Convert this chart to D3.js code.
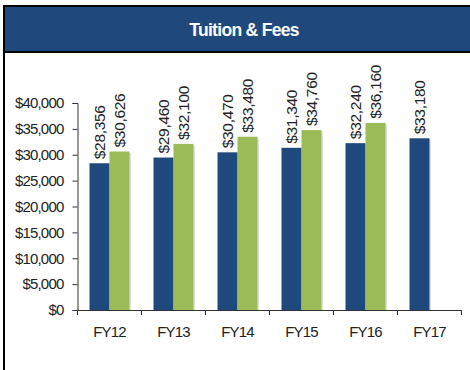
<!DOCTYPE html>
<html>
<head>
<meta charset="utf-8">
<script src="https://cdn.jsdelivr.net/npm/d3@7"></script>
<style>
  html, body { margin: 0; padding: 0; background: #fff; }
  svg { display: block; }
</style>
</head>
<body>
<svg id="chart" width="470" height="370"></svg>
<script>
// Tuition & fees by fiscal year, two rate series
const categories = ["FY12", "FY13", "FY14", "FY15", "FY16", "FY17"];
const seriesA = [28356, 29460, 30470, 31340, 32240, 33180];
const seriesB = [30626, 32100, 33480, 34760, 36160, null];
const yTicks = [0, 5000, 10000, 15000, 20000, 25000, 30000, 35000, 40000];
const title = "Tuition & Fees";

const colorA = "#1F497D";
const colorB = "#9BBB59";
const font = "Liberation Sans, Arial, sans-serif";
const fmt = d => "$" + d3.format(",")(d);

const svg = d3.select("#chart");

// frame and header band
svg.append("rect").attr("x", 3).attr("y", 5).attr("width", 467).attr("height", 2).attr("fill", "#000");
svg.append("rect").attr("x", 3).attr("y", 5).attr("width", 2).attr("height", 365).attr("fill", "#000");
svg.append("rect").attr("x", 5).attr("y", 7).attr("width", 465).attr("height", 44).attr("fill", colorA);
svg.append("rect").attr("x", 5).attr("y", 51).attr("width", 465).attr("height", 2).attr("fill", "#000");
svg.append("text")
  .attr("x", 244).attr("y", 36)
  .attr("text-anchor", "middle")
  .attr("fill", "#fff")
  .attr("font-family", font)
  .attr("font-weight", "bold")
  .attr("font-size", 17.5)
  .attr("letter-spacing", "-0.7px")
  .text(title);

const plotLeft = 77.5, plotRight = 461.5, plotTop = 103, plotBottom = 310;

const x = d3.scaleBand()
  .domain(categories)
  .range([plotLeft, plotRight])
  .paddingInner(0.375)
  .paddingOuter(0.1875);

const y = d3.scaleLinear().domain([0, 40000]).range([plotBottom, plotTop]);

const sub = x.bandwidth() / 2;

// y axis
const yAxis = svg.append("g")
  .attr("transform", `translate(${plotLeft},0)`)
  .call(d3.axisLeft(y).tickValues(yTicks).tickFormat(fmt).tickSize(5).tickPadding(9));
yAxis.select(".domain").attr("stroke", "#333");
yAxis.selectAll(".tick line").attr("stroke", "#333");
yAxis.selectAll(".tick text")
  .attr("fill", "#222")
  .attr("font-family", font)
  .attr("font-size", 15)
  .attr("letter-spacing", "-0.8px");

// bars with a soft drop shadow
const bars = [];
categories.forEach((c, i) => {
  if (seriesA[i] != null) bars.push({ c, v: seriesA[i], off: 0, color: colorA });
  if (seriesB[i] != null) bars.push({ c, v: seriesB[i], off: sub, color: colorB });
});

svg.append("g").selectAll("rect").data(bars).join("rect")
  .attr("x", d => x(d.c) + d.off + 1.5)
  .attr("y", d => y(d.v) + 1.5)
  .attr("width", sub)
  .attr("height", d => plotBottom - y(d.v) - 1.5)
  .attr("fill", "#bbb")
  .attr("opacity", 0.45);

svg.append("g").selectAll("rect").data(bars).join("rect")
  .attr("x", d => x(d.c) + d.off)
  .attr("y", d => y(d.v))
  .attr("width", sub)
  .attr("height", d => plotBottom - y(d.v))
  .attr("fill", d => d.color);

// value labels, rotated above each bar
svg.append("g").selectAll("text").data(bars).join("text")
  .attr("transform", d => `translate(${x(d.c) + d.off + sub / 2},${y(d.v) - 4}) rotate(-90)`)
  .attr("dy", "0.36em")
  .attr("text-anchor", "start")
  .attr("fill", "#222")
  .attr("font-family", font)
  .attr("font-size", 15.5)
  .attr("letter-spacing", "-0.3px")
  .text(d => fmt(d.v));

// x axis: line, boundary ticks, category labels
const xg = svg.append("g");
xg.append("line")
  .attr("x1", plotLeft).attr("x2", plotRight)
  .attr("y1", plotBottom + 0.5).attr("y2", plotBottom + 0.5)
  .attr("stroke", "#333");
const bounds = categories.map(c => x(c) - x.step() * x.paddingOuter()).concat([plotRight]);
xg.selectAll("line.tk").data(bounds).join("line")
  .attr("class", "tk")
  .attr("x1", d => d).attr("x2", d => d)
  .attr("y1", plotBottom).attr("y2", plotBottom + 5)
  .attr("stroke", "#333");
xg.selectAll("text").data(categories).join("text")
  .attr("x", c => x(c) + x.bandwidth() / 2)
  .attr("y", 337)
  .attr("text-anchor", "middle")
  .attr("fill", "#222")
  .attr("font-family", font)
  .attr("font-size", 15)
  .attr("letter-spacing", "-0.8px")
  .text(c => c);
</script>
</body>
</html>
